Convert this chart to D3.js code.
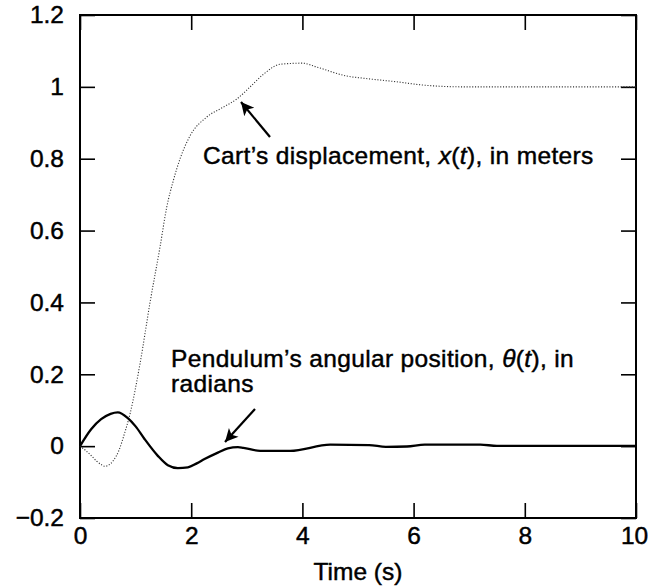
<!DOCTYPE html>
<html>
<head>
<meta charset="utf-8">
<script src="https://cdn.jsdelivr.net/npm/d3@7"></script>
<style>
  html, body { margin: 0; padding: 0; background: #fff; }
  svg { display: block; font-family: "Liberation Sans", Arial, Helvetica, sans-serif; }
  text { stroke: #000; stroke-width: 0.45px; }
  .note { letter-spacing: 0.35px; }
</style>
</head>
<body>
<svg id="chart" width="648" height="587"></svg>
<script>
// Time samples and responses of the cart–pendulum system
const cartTime = [0, 0.1, 0.2, 0.3, 0.4, 0.45, 0.5, 0.6, 0.7, 0.8, 0.9, 1.08, 1.26, 1.44, 1.56, 1.68, 1.8, 1.98, 2.28, 2.57, 2.82, 3.06, 3.3, 3.6, 4.0, 4.26, 4.8, 5.1, 5.7, 6.17, 6.9, 8, 9, 10];
const cartDisplacement = [0, -0.012, -0.026, -0.042, -0.053, -0.056, -0.054, -0.04, -0.012, 0.035, 0.09, 0.23, 0.4, 0.555, 0.665, 0.74, 0.8, 0.864, 0.916, 0.943, 0.966, 1.0, 1.035, 1.063, 1.066, 1.055, 1.03, 1.024, 1.014, 1.005, 1.0, 1.0, 1.0, 1.0];

const pendTime = [0, 0.2, 0.38, 0.55, 0.68, 0.86, 1.0, 1.16, 1.4, 1.58, 1.76, 1.94, 2.1, 2.24, 2.48, 2.66, 2.84, 2.94, 3.24, 3.78, 4.5, 5.2, 5.5, 5.88, 6.2, 7.2, 7.5, 8, 9, 10];
const pendAngle = [0, 0.047, 0.075, 0.09, 0.094, 0.078, 0.055, 0.02, -0.027, -0.053, -0.061, -0.059, -0.048, -0.036, -0.018, -0.006, -0.003, -0.005, -0.013, -0.013, 0.004, 0.003, -0.002, -0.001, 0.004, 0.004, 0.001, 0.001, 0.001, 0.001];

const xTicks = [0, 2, 4, 6, 8, 10];
const xTickLabels = ["0", "2", "4", "6", "8", "10"];
const yTicks = [-0.2, 0, 0.2, 0.4, 0.6, 0.8, 1, 1.2];
const yTickLabels = ["\u22120.2", "0", "0.2", "0.4", "0.6", "0.8", "1", "1.2"];

const W = 648, H = 587;
const margin = { left: 80, top: 15, right: 12, bottom: 69 };
const svg = d3.select("#chart");

const x = d3.scaleLinear().domain([0, 10]).range([margin.left, W - margin.right]);
const y = d3.scaleLinear().domain([-0.2, 1.2]).range([H - margin.bottom, margin.top]);

const FS = 24.5;
const TICK = 15;

function styleAxis(g, showText) {
  g.select(".domain").remove();
  g.selectAll(".tick line").attr("stroke", "#000").attr("stroke-width", 1.6);
  g.selectAll(".tick text").attr("fill", "#000").style("font-size", FS + "px");
  if (!showText) g.selectAll(".tick text").remove();
}

// Axes with inward ticks on all four sides
svg.append("g").attr("transform", `translate(0,${y(-0.2)})`)
  .call(d3.axisBottom(x).tickValues(xTicks).tickFormat((d, i) => xTickLabels[i]).tickSizeInner(-TICK).tickSizeOuter(0).tickPadding(9))
  .call(g => styleAxis(g, true))
  .call(g => g.selectAll(".tick text").filter(d => d === 10).attr("dx", -2));
svg.append("g").attr("transform", `translate(0,${y(1.2)})`)
  .call(d3.axisTop(x).tickValues(xTicks).tickSizeInner(-TICK).tickSizeOuter(0))
  .call(g => styleAxis(g, false));
svg.append("g").attr("transform", `translate(${x(0)},0)`)
  .call(d3.axisLeft(y).tickValues(yTicks).tickFormat((d, i) => yTickLabels[i]).tickSizeInner(-TICK).tickSizeOuter(0).tickPadding(16))
  .call(g => styleAxis(g, true));
svg.append("g").attr("transform", `translate(${x(10)},0)`)
  .call(d3.axisRight(y).tickValues(yTicks).tickSizeInner(-TICK).tickSizeOuter(0))
  .call(g => styleAxis(g, false));

// Plot frame
svg.append("rect")
  .attr("x", x(0)).attr("y", y(1.2))
  .attr("width", x(10) - x(0)).attr("height", y(-0.2) - y(1.2))
  .attr("fill", "none").attr("stroke", "#000").attr("stroke-width", 2);

// Curves
const line = d3.line().x(d => x(d[0])).y(d => y(d[1])).curve(d3.curveMonotoneX);

svg.append("path")
  .datum(cartTime.map((t, i) => [t, cartDisplacement[i]]))
  .attr("d", line)
  .attr("fill", "none").attr("stroke", "#333").attr("stroke-width", 1.1)
  .attr("stroke-dasharray", "1.1,1.7");

svg.append("path")
  .datum(pendTime.map((t, i) => [t, pendAngle[i]]))
  .attr("d", line)
  .attr("fill", "none").attr("stroke", "#000").attr("stroke-width", 2.3)
  .attr("stroke-linejoin", "round");

// Axis title
svg.append("text")
  .attr("x", (x(0) + x(10)) / 2).attr("y", 580)
  .attr("text-anchor", "middle").style("font-size", FS + "px")
  .text("Time (s)");

// Annotation arrows
svg.append("defs").append("marker")
  .attr("id", "head").attr("viewBox", "0 0 10 10")
  .attr("refX", 10).attr("refY", 5)
  .attr("markerWidth", 17).attr("markerHeight", 13)
  .attr("markerUnits", "userSpaceOnUse").attr("orient", "auto")
  .append("path").attr("d", "M0,0 L10,5 L0,10 L2.5,5 Z").attr("fill", "#000");

function arrow(x1, y1, x2, y2) {
  svg.append("line")
    .attr("x1", x1).attr("y1", y1).attr("x2", x2).attr("y2", y2)
    .attr("stroke", "#000").attr("stroke-width", 2.2)
    .attr("marker-end", "url(#head)");
}
arrow(270, 137, 241, 102);
arrow(255, 409, 225, 442);

// Annotation labels
const cartLabel = svg.append("text").attr("class", "note").attr("x", 203).attr("y", 164).style("font-size", FS + "px");
cartLabel.append("tspan").text("Cart\u2019s displacement, ");
cartLabel.append("tspan").style("font-style", "italic").text("x");
cartLabel.append("tspan").text("(");
cartLabel.append("tspan").style("font-style", "italic").text("t");
cartLabel.append("tspan").text("), in meters");

const pendLabel = svg.append("text").attr("class", "note").attr("x", 171).attr("y", 367).style("font-size", FS + "px");
pendLabel.append("tspan").text("Pendulum\u2019s angular position, ");
pendLabel.append("tspan").style("font-style", "italic").text("\u03B8");
pendLabel.append("tspan").text("(");
pendLabel.append("tspan").style("font-style", "italic").text("t");
pendLabel.append("tspan").text("), in");
svg.append("text").attr("class", "note").attr("x", 171).attr("y", 392).style("font-size", FS + "px").text("radians");
</script>
</body>
</html>
